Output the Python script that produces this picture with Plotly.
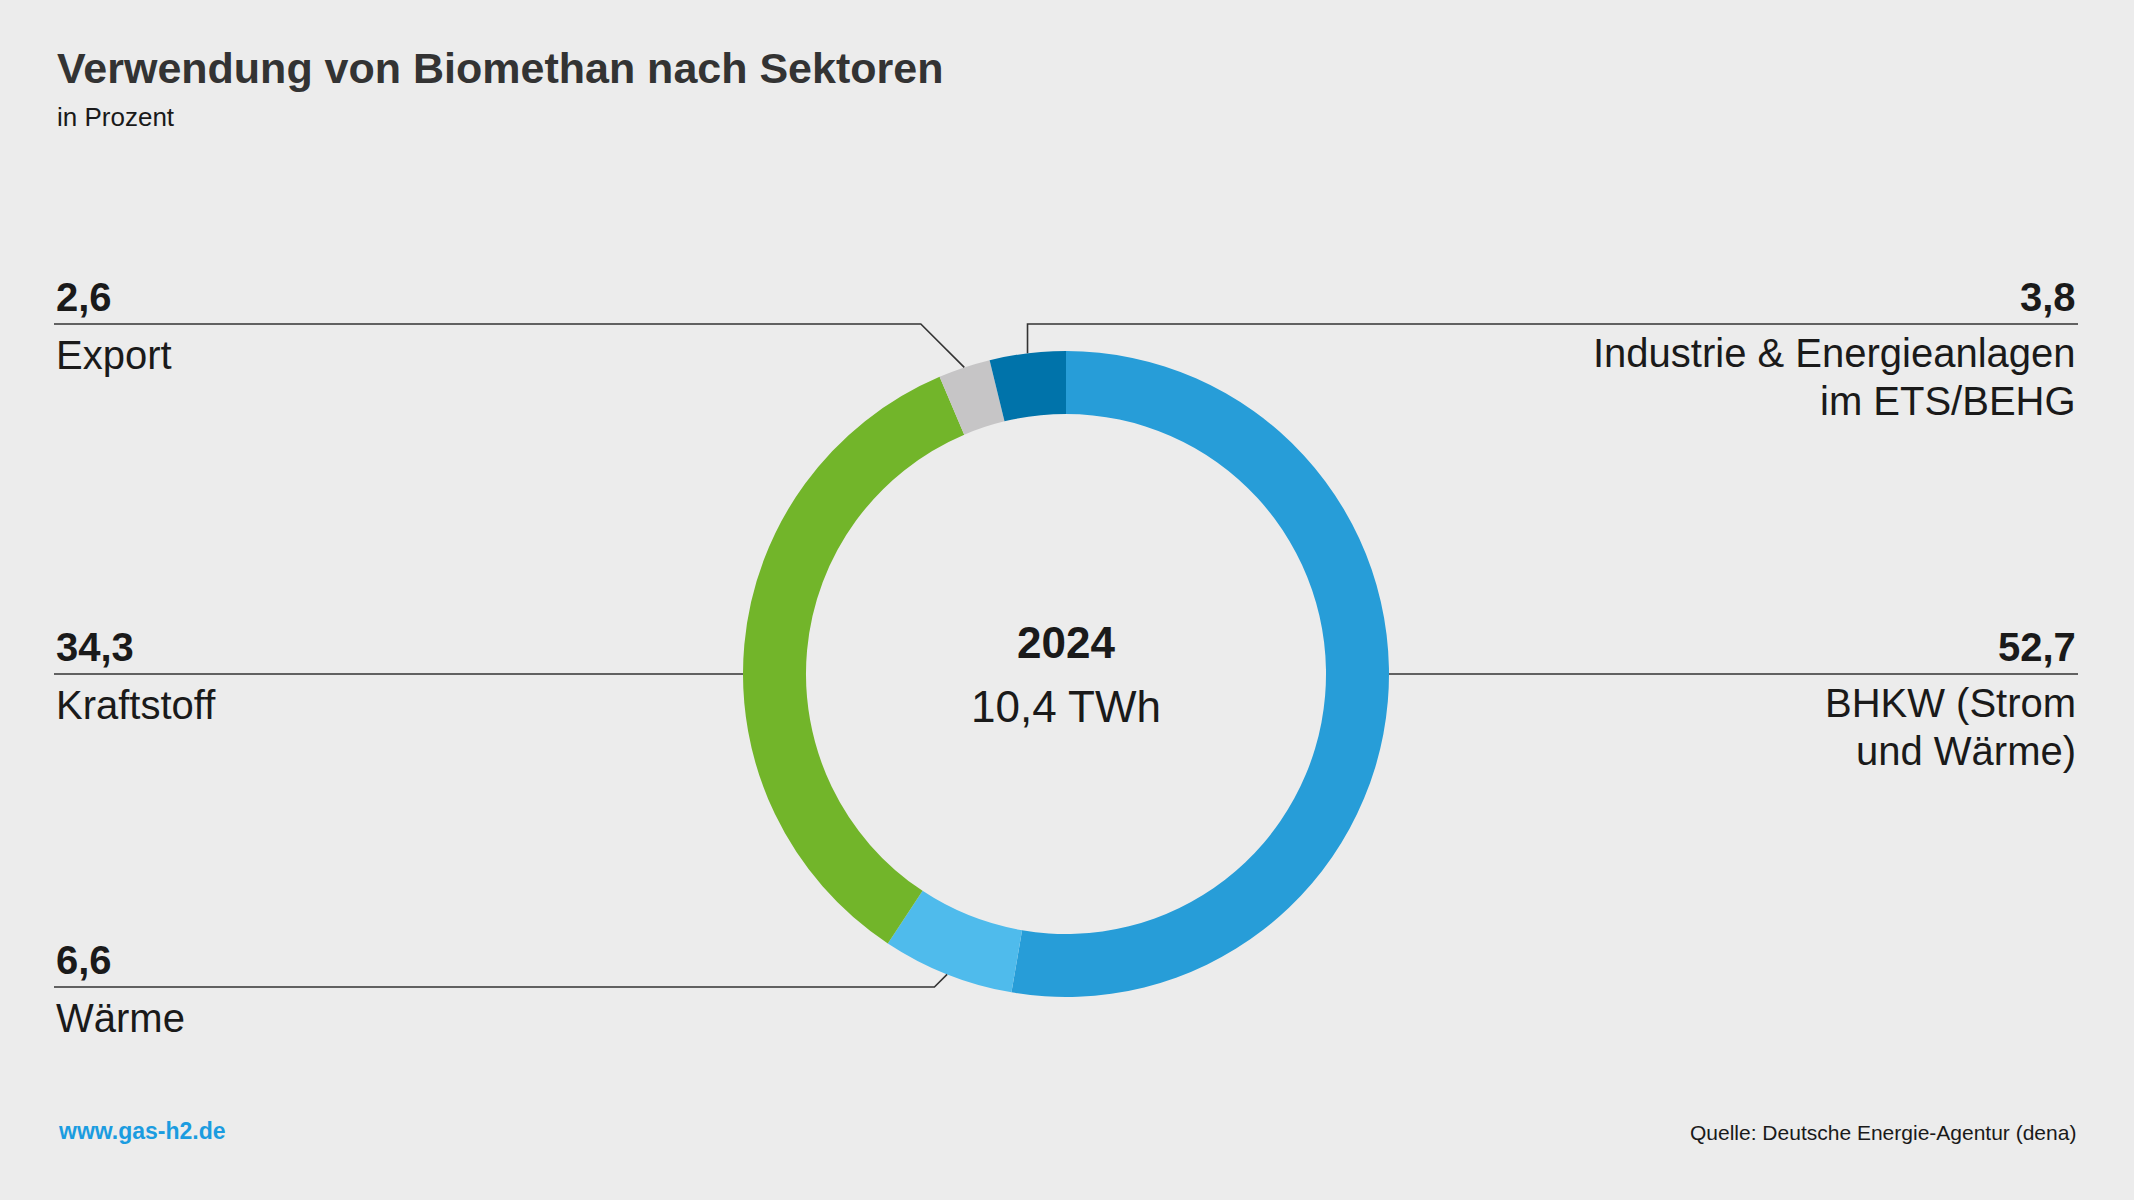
import math
import plotly.graph_objects as go

# Daten (Anteile in Prozent, im Uhrzeigersinn ab 12 Uhr)
sectors = ["BHKW (Strom<br>und Wärme)", "Wärme", "Kraftstoff", "Export",
           "Industrie & Energieanlagen<br>im ETS/BEHG"]
shares = [52.7, 6.6, 34.3, 2.6, 3.8]
colors = ["#279dd8", "#4fbbec", "#72b52a", "#c6c5c6", "#0073aa"]
year = "2024"
total = "10,4 TWh"

title = "Verwendung von Biomethan nach Sektoren"
subtitle = "in Prozent"
website = "www.gas-h2.de"
source = "Quelle: Deutsche Energie-Agentur (dena)"

# Layout in Pixeln
W, H = 2134, 1200
CX, CY, R = 1066, 674, 323
HOLE = 0.805
LEFT, RIGHT = 54, 2078
LINE_GAP = 48
# Seite, Hoehe der Linie, Art der Fuehrungslinie je Sektor
label_rows = [
    ("right", CY, "center"),
    ("left", 987, "elbow"),
    ("left", CY, "center"),
    ("left", 324, "elbow"),
    ("right", 324, "vertical"),
]

TXT = "#1a1a1a"
FONT = "Liberation Sans"


def px(x):
    return x / W


def py(y):
    return 1 - y / H


def fmt(v):
    return f"{v:.1f}".replace(".", ",")


def note(text, x, y, size, color=TXT, xanchor="center", bold=False):
    if bold:
        text = f"<b>{text}</b>"
    return dict(text=text, x=px(x), y=py(y), xref="paper", yref="paper",
                xanchor=xanchor, yanchor="middle", showarrow=False, align=xanchor,
                font=dict(family=FONT, size=size, color=color))


fig = go.Figure(go.Pie(
    labels=[s.replace("<br>", " ") for s in sectors],
    values=shares,
    marker=dict(colors=colors, line=dict(width=0)),
    hole=HOLE,
    sort=False,
    direction="clockwise",
    rotation=0,
    textinfo="none",
    hovertemplate="%{label}: %{value}<extra></extra>",
    domain=dict(x=[px(CX - R), px(CX + R)], y=[py(CY + R), py(CY - R)]),
))

shapes = []
annotations = []
cum = 0.0
for name, val, (side, row_y, kind) in zip(sectors, shares, label_rows):
    theta = 2 * math.pi * (cum + val / 2) / 100
    cum += val
    ex = CX + R * math.sin(theta)
    ey = CY - R * math.cos(theta)

    if kind == "center":
        pts = [(LEFT, row_y), (CX - R, row_y)] if side == "left" else [(CX + R, row_y), (RIGHT, row_y)]
    elif kind == "elbow":
        bend = ex - abs(ey - row_y)
        pts = [(LEFT, row_y), (bend, row_y), (ex, ey)]
    else:
        pts = [(ex, ey), (ex, row_y), (RIGHT, row_y)]

    path = "M " + " L ".join(f"{px(x):.5f},{py(y):.5f}" for x, y in pts)
    shapes.append(dict(type="path", path=path, xref="paper", yref="paper",
                       line=dict(color="#333333", width=1.6)))

    xa = LEFT if side == "left" else RIGHT
    anchor = "left" if side == "left" else "right"
    annotations.append(note(fmt(val), xa, row_y - 27, 40, xanchor=anchor, bold=True))
    first = row_y + 31 if side == "left" else row_y + 29
    for i, part in enumerate(name.split("<br>")):
        annotations.append(note(part, xa, first + i * LINE_GAP, 40, xanchor=anchor))

# Mitte des Rings
annotations.append(note(year, CX, 642, 44, bold=True))
annotations.append(note(total, CX, 707, 44))

# Titel, Untertitel, Fusszeile
annotations += [
    note(title, 55, 68, 43, color="#333333", xanchor="left", bold=True),
    note(subtitle, 55, 117, 26, xanchor="left"),
    note(website, 56, 1131, 23, color="#1b9ce0", xanchor="left", bold=True),
    note(source, RIGHT, 1132, 21, xanchor="right"),
]

fig.update_layout(
    width=W, height=H,
    margin=dict(l=0, r=0, t=0, b=0),
    paper_bgcolor="#ececec",
    plot_bgcolor="#ececec",
    showlegend=False,
    shapes=shapes,
    annotations=annotations,
)

fig.write_html("out.html", config={"displayModeBar": False},
               post_script="document.body.style.margin='0';")
